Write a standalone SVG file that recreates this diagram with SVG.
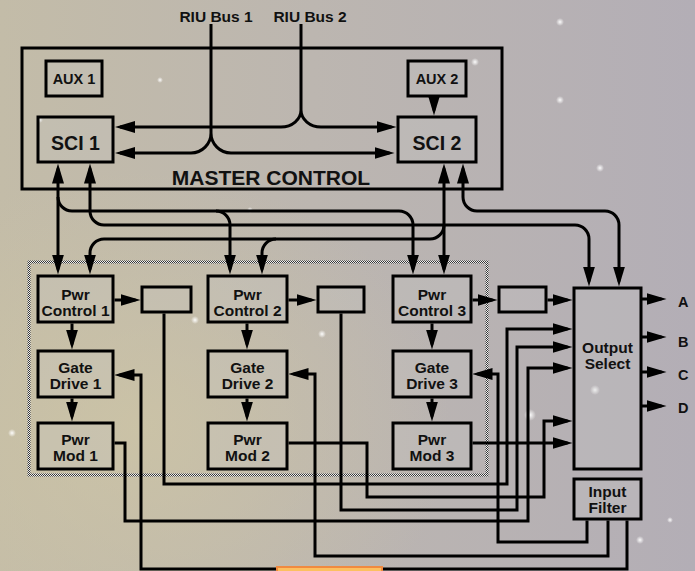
<svg xmlns="http://www.w3.org/2000/svg" width="695" height="571" viewBox="0 0 695 571">
  <defs>
    <linearGradient id="bg" x1="0" y1="0" x2="1" y2="0">
      <stop offset="0" stop-color="#c3bca8"/>
      <stop offset="0.45" stop-color="#bcb6b0"/>
      <stop offset="1" stop-color="#b3aeb6"/>
    </linearGradient>
    <radialGradient id="warm" cx="0.2" cy="0.75" r="0.45">
      <stop offset="0" stop-color="#cfc6a4" stop-opacity="0.7"/>
      <stop offset="1" stop-color="#cfc6a4" stop-opacity="0"/>
    </radialGradient>
    <radialGradient id="star">
      <stop offset="0" stop-color="#ffffff" stop-opacity="0.95"/>
      <stop offset="1" stop-color="#ffffff" stop-opacity="0"/>
    </radialGradient>
    <pattern id="hatch" width="2" height="2" patternUnits="userSpaceOnUse">
      <rect width="2" height="2" fill="#f2f2f2"/>
      <rect width="1" height="1" fill="#333"/>
      <rect x="1" y="1" width="1" height="1" fill="#333"/>
    </pattern>
    <marker id="ah" viewBox="0 0 20 12" markerWidth="20" markerHeight="12" refX="15" refY="6" orient="auto-start-reverse" markerUnits="userSpaceOnUse">
      <path d="M0,0 L20,6 L0,12 z" fill="#000"/>
    </marker>
    <style>
      .box { fill: #c9c6c9; fill-opacity: 0.25; stroke: #000; stroke-width: 3; }
      .frame { fill: none; stroke: #000; stroke-width: 3; }
      .dotted { fill: none; stroke: url(#hatch); stroke-width: 3; }
      .ln { fill: none; stroke: #000; stroke-width: 3; }
      .a2 { marker-start: url(#ah); marker-end: url(#ah); }
      .a1 { marker-end: url(#ah); }
      text { font-family: "Liberation Sans", Arial, sans-serif; font-weight: bold; fill: #111; text-anchor: middle; }
      .t15 { font-size: 15.5px; }
      .t14 { font-size: 14.5px; }
      .t19 { font-size: 19.5px; }
      .t20 { font-size: 21px; }
      .lbl { font-size: 14.5px; text-anchor: start; }
    </style>
  </defs>

  <g id="background">
    <rect width="695" height="571" fill="url(#bg)"/>
    <rect width="695" height="571" fill="url(#warm)"/>
    <circle cx="195" cy="320" r="4" fill="url(#star)"/>
    <circle cx="160" cy="80" r="3" fill="url(#star)"/>
    <circle cx="475" cy="62" r="4" fill="url(#star)"/>
    <circle cx="560" cy="100" r="4" fill="url(#star)"/>
    <circle cx="600" cy="168" r="4" fill="url(#star)"/>
    <circle cx="560" cy="22" r="4" fill="url(#star)"/>
    <circle cx="595" cy="390" r="5" fill="url(#star)"/>
    <circle cx="530" cy="415" r="6" fill="url(#star)"/>
    <circle cx="12" cy="433" r="4" fill="url(#star)"/>
    <circle cx="322" cy="334" r="4" fill="url(#star)"/>
    <circle cx="640" cy="540" r="4" fill="url(#star)"/>
    <circle cx="670" cy="520" r="3" fill="url(#star)"/>
    <circle cx="40" cy="120" r="3" fill="url(#star)"/>
    <circle cx="250" cy="210" r="3" fill="url(#star)"/>
  </g>

  <g id="master-control">
    <rect class="frame" x="22" y="48" width="480" height="141"/>
    <text class="t20" x="271" y="185">MASTER CONTROL</text>
  </g>
  <g id="power-stage">
    <rect class="dotted" x="29" y="262" width="458" height="213"/>
  </g>

  <g id="riu-labels">
    <text class="t15" x="216" y="22">RIU Bus 1</text>
    <text class="t15" x="310" y="22">RIU Bus 2</text>
  </g>

  <g id="aux1"><rect class="box" x="46" y="61" width="56" height="35"/><text class="t14" x="74" y="84">AUX 1</text></g>
  <g id="aux2"><rect class="box" x="408" y="61" width="58" height="35"/><text class="t14" x="437" y="84">AUX 2</text></g>
  <g id="sci1"><rect class="box" x="38" y="117" width="75" height="45"/><text class="t19" x="75.5" y="150">SCI 1</text></g>
  <g id="sci2"><rect class="box" x="398" y="117" width="78" height="45"/><text class="t19" x="437" y="150">SCI 2</text></g>

  <g id="pwr-control-1"><rect class="box" x="38" y="276" width="75" height="46"/><text class="t15" x="75.5" y="299.5">Pwr</text><text class="t15" x="75.5" y="316">Control 1</text></g>
  <g id="gate-drive-1"><rect class="box" x="38" y="351" width="75" height="46"/><text class="t15" x="75.5" y="372.5">Gate</text><text class="t15" x="75.5" y="389">Drive 1</text></g>
  <g id="pwr-mod-1"><rect class="box" x="38" y="423" width="75" height="46"/><text class="t15" x="75.5" y="444.5">Pwr</text><text class="t15" x="75.5" y="461">Mod 1</text></g>

  <g id="pwr-control-2"><rect class="box" x="208" y="276" width="79" height="46"/><text class="t15" x="247.5" y="299.5">Pwr</text><text class="t15" x="247.5" y="316">Control 2</text></g>
  <g id="gate-drive-2"><rect class="box" x="208" y="351" width="79" height="46"/><text class="t15" x="247.5" y="372.5">Gate</text><text class="t15" x="247.5" y="389">Drive 2</text></g>
  <g id="pwr-mod-2"><rect class="box" x="208" y="423" width="79" height="46"/><text class="t15" x="247.5" y="444.5">Pwr</text><text class="t15" x="247.5" y="461">Mod 2</text></g>

  <g id="pwr-control-3"><rect class="box" x="393" y="276" width="78" height="46"/><text class="t15" x="432" y="299.5">Pwr</text><text class="t15" x="432" y="316">Control 3</text></g>
  <g id="gate-drive-3"><rect class="box" x="393" y="351" width="78" height="46"/><text class="t15" x="432" y="372.5">Gate</text><text class="t15" x="432" y="389">Drive 3</text></g>
  <g id="pwr-mod-3"><rect class="box" x="393" y="423" width="78" height="46"/><text class="t15" x="432" y="444.5">Pwr</text><text class="t15" x="432" y="461">Mod 3</text></g>

  <g id="small-box-1"><rect class="box" x="142" y="287" width="49" height="25"/></g>
  <g id="small-box-2"><rect class="box" x="318" y="287" width="46" height="25"/></g>
  <g id="small-box-3"><rect class="box" x="499" y="287" width="47" height="25"/></g>

  <g id="output-select"><rect class="box" x="574" y="288" width="67" height="181"/><text class="t15" x="607.5" y="353">Output</text><text class="t15" x="607.5" y="369">Select</text></g>
  <g id="input-filter"><rect class="box" x="574" y="479" width="67" height="40"/><text class="t15" x="607.5" y="497">Input</text><text class="t15" x="607.5" y="513">Filter</text></g>

  <g id="output-labels">
    <text class="lbl" x="678" y="307">A</text>
    <text class="lbl" x="678" y="347">B</text>
    <text class="lbl" x="678" y="380">C</text>
    <text class="lbl" x="678" y="413">D</text>
  </g>

  <g id="connectors">
    <path class="ln" d="M211,24 L211,133"/>
    <path class="ln" d="M301,24 L301,110"/>
    <path class="ln a2" d="M120,127 L281,127 A20,17 0 0 0 301,110 A20,17 0 0 0 321,127 L391.5,127"/>
    <path class="ln a2" d="M120,153 L191,153 A20,20 0 0 0 211,133 A20,20 0 0 0 231,153 L389.5,153"/>
    <path class="ln a1" d="M434,97 L434,110.5"/>
    <path class="ln a2" d="M58,168.5 L58,269.5"/>
    <path class="ln a1" d="M58,197 A14,14 0 0 0 72,211 L399,211 A14,14 0 0 1 413,225 L413,269.5"/>
    <path class="ln a1" d="M216,211 A14,14 0 0 1 230,225 L230,269.5"/>
    <path class="ln a2" d="M90,168.5 L90,211 A14,14 0 0 0 104,225 L575,225 A14,14 0 0 1 589,239 L589,281.5"/>
    <path class="ln a2" d="M444,168.5 L444,269.5"/>
    <path class="ln a1" d="M444,225 A14,14 0 0 1 430,239 L104,239 A14,14 0 0 0 90,253 L90,269.5"/>
    <path class="ln a1" d="M276,239 A14,14 0 0 0 262,253 L262,269.5"/>
    <path class="ln a2" d="M463,168.5 L463,197 A14,14 0 0 0 477,211 L605,211 A14,14 0 0 1 619,225 L619,281.5"/>
    <path class="ln a1" d="M114.5,300 L135.5,300"/>
    <path class="ln a1" d="M288.5,300 L311.5,300"/>
    <path class="ln a1" d="M472.5,300 L492.5,300"/>
    <path class="ln a1" d="M547.5,300 L567.5,300"/>
    <path class="ln a1" d="M72,323.5 L72,344.5"/>
    <path class="ln a1" d="M72,398.5 L72,416.5"/>
    <path class="ln a1" d="M247,323.5 L247,344.5"/>
    <path class="ln a1" d="M247,398.5 L247,416.5"/>
    <path class="ln a1" d="M432,323.5 L432,344.5"/>
    <path class="ln a1" d="M432,398.5 L432,416.5"/>
    <path class="ln a1" d="M627,520.5 L627,569 L141,569 L141,375 L119.5,375"/>
    <path class="ln a1" d="M608,520.5 L608,556 L315,556 L315,374 L293.5,374"/>
    <path class="ln a1" d="M587,520.5 L587,542 L498,542 L498,374 L477.5,374"/>
    <path class="ln a1" d="M164,313.5 L164,484 L507,484 L507,329 L567.5,329"/>
    <path class="ln a1" d="M341,313.5 L341,510 L517,510 L517,347 L567.5,347"/>
    <path class="ln a1" d="M114.5,443 L125,443 L125,521 L528,521 L528,368 L567.5,368"/>
    <path class="ln a1" d="M288.5,443 L367,443 L367,497 L544,497 L544,421 L567.5,421"/>
    <path class="ln a1" d="M472.5,443 L567.5,443"/>
    <path class="ln a1" d="M640,299 L661.5,299"/>
    <path class="ln a1" d="M640,337 L661.5,337"/>
    <path class="ln a1" d="M640,372 L661.5,372"/>
    <path class="ln a1" d="M640,406 L661.5,406"/>
  </g>

  <g id="slide-tab">
    <rect x="277" y="567" width="105" height="8" fill="#fcc060" stroke="#f08a40" stroke-width="2"/>
  </g>
</svg>
